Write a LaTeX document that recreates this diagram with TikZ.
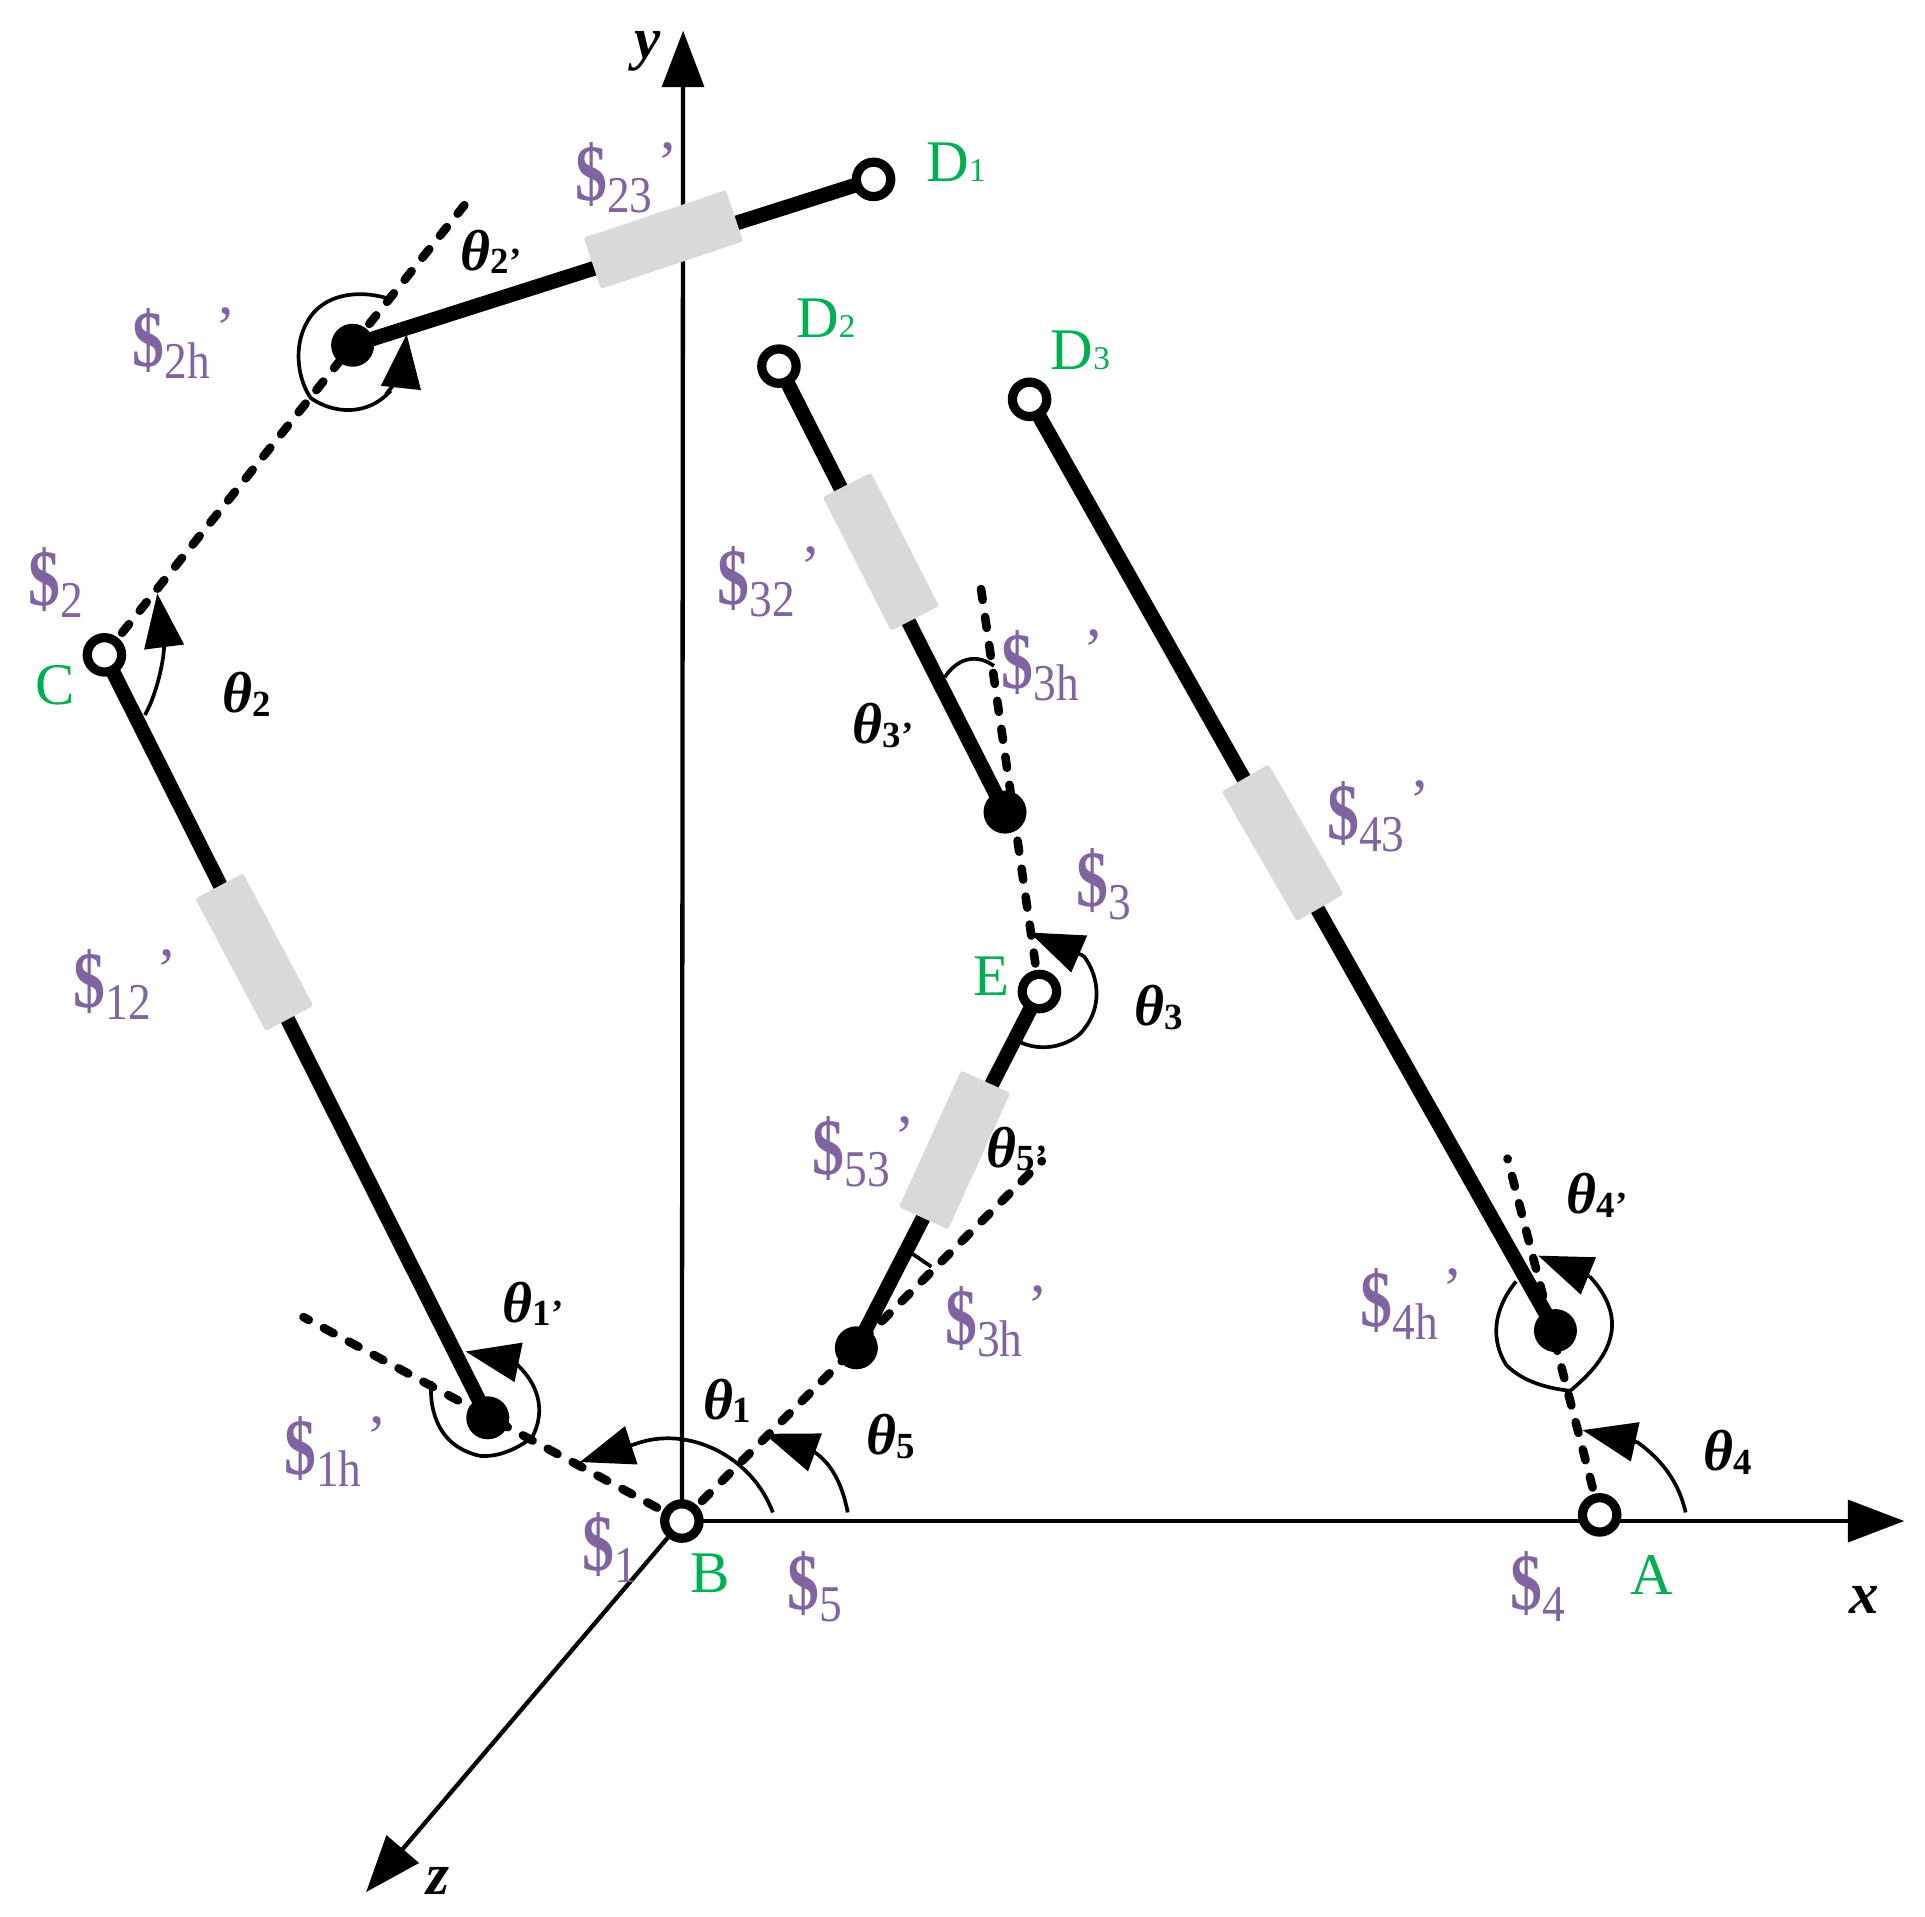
\documentclass[tikz,border=0pt]{standalone}
\usepackage{fontspec}
\usepackage{graphicx}
\setmainfont{Liberation Serif}
\usetikzlibrary{arrows.meta,backgrounds}
\definecolor{scr}{HTML}{8064A2}
\definecolor{grn}{HTML}{00B050}
\definecolor{slid}{HTML}{D9D9D9}
\newcommand{\dlr}{\fontsize{62}{62}\selectfont\scalebox{0.84}[1.05]{\bfseries\$}}
\newcommand{\sbs}[1]{\raisebox{-10pt}{\fontsize{42}{42}\selectfont\scalebox{0.88}[1]{#1}}}
\newcommand{\scw}[2]{\node[scrtxt] at (#1) {\makebox[67pt][l]{\dlr\sbs{#2}}\raisebox{14pt}{\fontsize{50}{50}\selectfont ’}};}
\newcommand{\scn}[2]{\node[scrtxt] at (#1) {\dlr\sbs{#2}};}
\newcommand{\thl}[2]{\node[thtxt] at (#1) {\fontsize{47}{47}\selectfont\bfseries\itshape θ\raisebox{-3pt}{\fontsize{30}{30}\selectfont\upshape #2}};}
\newcommand{\ptl}[2]{\node[pttxt] at (#1) {\fontsize{48}{48}\selectfont #2};}
\tikzset{
 axisline/.style={line width=3.5pt,-{Triangle[length=46pt,width=34pt]}},
 linkline/.style={line width=12pt},
 dashline/.style={line width=7pt,line cap=round,dash pattern=on 9pt off 14pt},
 arcline/.style={line width=3pt},
 arcarrow/.style={line width=3pt,-{Triangle[length=44pt,width=32pt]}},
 openjoint/.style={circle,draw,fill=white,line width=7.5pt,minimum size=28pt,inner sep=0pt},
 solidjoint/.style={circle,fill=black,minimum size=35pt,inner sep=0pt},
 slider/.style={fill=slid,rounded corners=2pt,minimum width=122pt,minimum height=44pt,inner sep=0pt},
 scrtxt/.style={text=scr,anchor=base west,inner sep=0pt},
 thtxt/.style={text=black,anchor=base west,inner sep=0pt},
 pttxt/.style={text=grn,anchor=base west,inner sep=0pt},
 axtxt/.style={text=black,anchor=base west,inner sep=0pt,font=\fontsize{48}{48}\selectfont\bfseries\itshape},
}
\begin{document}
\begin{tikzpicture}[x=1pt,y=-1pt]
\useasboundingbox (0,0) rectangle (1566.8,1559.5);
% joints
\node[openjoint] (B) at (555,1238) {};
\node[openjoint] (A) at (1302,1233) {};
\node[openjoint] (C) at (85,533) {};
\node[openjoint] (E) at (846,807) {};
\node[openjoint] (D1) at (711,146) {};
\node[openjoint] (D2) at (634,298) {};
\node[openjoint] (D3) at (838,325) {};
\node[solidjoint] (J1) at (397,1154) {};
\node[solidjoint] (J2) at (287,281) {};
\node[solidjoint] (J3) at (818,661) {};
\node[solidjoint] (J4) at (1266,1083) {};
\node[solidjoint] (J5) at (697,1097) {};
% free ends
\coordinate (xend) at (1550,1238);
\coordinate (yend) at (556,25);
\coordinate (zend) at (298,1540);
\coordinate (d1) at (247,1072);
\coordinate (d2) at (378,167);
\coordinate (d3) at (798,476);
\coordinate (d4) at (1227,943);
\coordinate (d5) at (848,945);
\begin{scope}[on background layer]
 \draw[axisline] (B.center) -- (xend);
 \draw[axisline] (B.center) -- (yend);
 \draw[axisline] (B.center) -- (zend);
 \draw[dashline] (B.center) -- (d1);
 \draw[dashline] (C.center) -- (d2);
 \draw[dashline] (E.center) -- (d3);
 \draw[dashline] (A.center) -- (d4);
 \draw[dashline] (B.center) -- (d5);
 \draw[linkline] (J1.center) -- (C.center);
 \draw[linkline] (J2.center) -- (D1.center);
 \draw[linkline] (J3.center) -- (D2.center);
 \draw[linkline] (J4.center) -- (D3.center);
 \draw[linkline] (J5.center) -- (E.center);
 \node[slider,rotate=-62] (S1) at (207,775) {};
 \node[slider,rotate=18.5] (S2) at (540,195) {};
 \node[slider,rotate=-63] (S3) at (717,449) {};
 \node[slider,rotate=-60] (S4) at (1044,686) {};
 \node[slider,rotate=65.5] (S5) at (777,936) {};
\end{scope}
% angle arcs
\draw[arcarrow] (118,582) .. controls (130,560) and (134,530) .. (128,483);
\draw[arcline] (316,243) .. controls (290,235) and (262,240) .. (250,262) .. controls (238,283) and (243,310) .. (253,324) .. controls (270,336) and (298,340) .. (318,318);
\draw[arcarrow] (314,321) .. controls (322,312) and (328,300) .. (331,272);
\draw[arcline] (351,1124) .. controls (349,1150) and (358,1178) .. (391,1185) .. controls (405,1186) and (420,1180) .. (433,1170);
\draw[arcarrow] (433,1170) .. controls (445,1148) and (438,1125) .. (418,1108) -- (379,1100);
\draw[arcarrow] (629,1231) .. controls (612,1185) and (560,1160) .. (518,1175) -- (472,1190);
\draw[arcarrow] (690,1231) .. controls (685,1205) and (675,1190) .. (663,1182) -- (622,1167);
\draw[arcline] (739,1018) -- (758,1031);
\draw[arcarrow] (1372,1231) .. controls (1366,1205) and (1352,1188) .. (1333,1174) -- (1288,1164);
\draw[arcline] (1234,1043) .. controls (1220,1060) and (1210,1085) .. (1226,1111) .. controls (1240,1125) and (1260,1130) .. (1278,1132) .. controls (1302,1112) and (1332,1080) .. (1294,1039);
\draw[arcarrow] (1294,1039) -- (1252,1022);
\draw[arcline] (826,846) .. controls (850,860) and (875,848) .. (882,838) .. controls (897,820) and (895,795) .. (882,778);
\draw[arcarrow] (882,778) -- (838,759);
\draw[arcline] (769,551) .. controls (780,535) and (795,532) .. (809,542);
% labels
\scw{468,163}{23}
\scw{108,298}{2h}
\scn{23,493}{2}
\scw{584,492}{32}
\scw{815,560}{3h}
\scw{60,820}{12}
\scw{1080,683}{43}
\scn{876,738}{3}
\scw{661,956}{53}
\scw{769,1094}{3h}
\scw{231,1200}{1h}
\scw{1107,1080}{4h}
\scn{474,1278}{1}
\scn{641,1310}{5}
\scn{1229,1310}{4}
\node[pttxt] at (754,148) {\fontsize{48}{48}\selectfont D\fontsize{27}{27}\selectfont 1};
\node[pttxt] at (648,275) {\fontsize{48}{48}\selectfont D\fontsize{27}{27}\selectfont 2};
\node[pttxt] at (855,301) {\fontsize{48}{48}\selectfont D\fontsize{27}{27}\selectfont 3};
\ptl{1327,1298}{A}
\ptl{562,1296}{B}
\ptl{29,573}{C}
\ptl{792,810}{E}
\thl{181,580}{2}
\thl{375,220}{2’}
\thl{694,605}{3’}
\thl{923,835}{3}
\thl{803,950}{5’}
\thl{409,1076}{1’}
\thl{572,1155}{1}
\thl{705,1184}{5}
\thl{1275,988}{4’}
\thl{1386,1197}{4}
\node[axtxt] at (516,48) {y};
\node[axtxt] at (1505,1313) {x};
\node[axtxt] at (347,1542) {z};
\end{tikzpicture}
\end{document}
